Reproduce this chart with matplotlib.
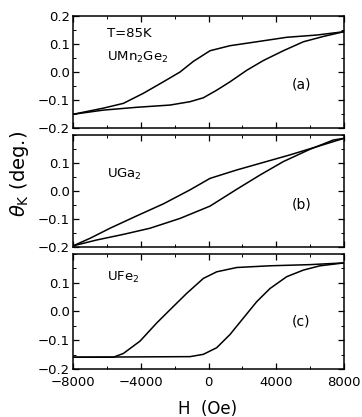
import numpy as np
import matplotlib
matplotlib.use("Agg")
import matplotlib.pyplot as plt
from matplotlib.ticker import MultipleLocator, FixedLocator, FuncFormatter

plt.rcParams['font.family'] = ['DejaVu Sans']

# panel (a) UMn2Ge2 : field down / field up branches
a_dec_h = [-8000, -6209, -5028, -3847, -2667, -1683, -895, 89, 1269, 2844, 4616, 6387, 8000]
a_dec_th = [-0.151, -0.129, -0.112, -0.076, -0.035, 0.000, 0.038, 0.076, 0.094, 0.108, 0.124, 0.132, 0.144]
a_inc_h = [-8000, -6209, -4241, -2273, -1092, -305, 482, 1269, 2253, 3237, 4418, 5599, 6780, 8000]
a_inc_th = [-0.151, -0.136, -0.126, -0.118, -0.106, -0.092, -0.065, -0.035, 0.006, 0.041, 0.076, 0.108, 0.127, 0.144]

# panel (b) UGa2
b_dec_h = [-8000, -6996, -5815, -4241, -2667, -1092, 89, 1663, 3237, 4812, 6387, 8000]
b_dec_th = [-0.196, -0.169, -0.133, -0.089, -0.046, 0.004, 0.045, 0.075, 0.102, 0.129, 0.158, 0.188]
b_inc_h = [-8000, -6603, -5028, -3454, -1683, 89, 1663, 3040, 4418, 5993, 7370, 8000]
b_inc_th = [-0.196, -0.175, -0.155, -0.133, -0.098, -0.054, 0.006, 0.057, 0.105, 0.149, 0.182, 0.188]

# panel (c) UFe2
c_dec_h = [-8000, -5618, -5028, -4044, -3060, -2273, -1289, -305, 482, 1663, 3631, 5993, 8000]
c_dec_th = [-0.159, -0.159, -0.146, -0.103, -0.040, 0.006, 0.063, 0.115, 0.138, 0.153, 0.159, 0.163, 0.169]
c_inc_h = [-8000, -1092, -305, 482, 1269, 2056, 2844, 3631, 4615, 5599, 6583, 8000]
c_inc_th = [-0.159, -0.157, -0.149, -0.126, -0.080, -0.023, 0.034, 0.080, 0.121, 0.144, 0.159, 0.169]

compounds = ["UMn$_2$Ge$_2$", "UGa$_2$", "UFe$_2$"]
panel_tags = ["(a)", "(b)", "(c)"]
x_ticks = [-8000, -4000, 0, 4000, 8000]
x_ticklabels = ["\u22128000", "\u22124000", "0", "4000", "8000"]

fig = plt.figure(figsize=(3.62, 4.17), dpi=100)
boxes = [
    [0.2017, 0.693, 0.7486, 0.2686],
    [0.2017, 0.4077, 0.7486, 0.2686],
    [0.2017, 0.1151, 0.7486, 0.2758],
]
branches = [
    (a_dec_h, a_dec_th, a_inc_h, a_inc_th),
    (b_dec_h, b_dec_th, b_inc_h, b_inc_th),
    (c_dec_h, c_dec_th, c_inc_h, c_inc_th),
]
label_y = [0.053, 0.06, 0.117]
tag_y = [-0.046, -0.05, -0.035]

def fmt(v, pos):
    s = "%.1f" % v
    if s == "-0.0":
        s = "0.0"
    return s.replace("-", "\u2212")

for i, (box, br) in enumerate(zip(boxes, branches)):
    ax = fig.add_axes(box)
    ax.plot(br[0], br[1], color='black', lw=1.1)
    ax.plot(br[2], br[3], color='black', lw=1.1)
    ax.set_xlim(-8000, 8000)
    ax.set_ylim(-0.2, 0.2)
    ax.xaxis.set_major_locator(FixedLocator(x_ticks))
    ax.xaxis.set_minor_locator(MultipleLocator(2000))
    if i == 0:
        ax.yaxis.set_major_locator(FixedLocator([-0.2, -0.1, 0.0, 0.1, 0.2]))
    else:
        ax.yaxis.set_major_locator(FixedLocator([-0.2, -0.1, 0.0, 0.1]))
    ax.yaxis.set_minor_locator(MultipleLocator(0.05))
    ax.yaxis.set_major_formatter(FuncFormatter(fmt))
    ax.tick_params(which='both', direction='in', top=True, right=True, labelsize=9.5)
    ax.tick_params(axis='y', pad=2)
    ax.tick_params(axis='x', pad=5)
    ax.tick_params(which='major', length=4, width=0.9)
    ax.tick_params(which='minor', length=2, width=0.7)
    if i < 2:
        ax.tick_params(labelbottom=False)
    else:
        ax.set_xticklabels(x_ticklabels)
    for sp in ax.spines.values():
        sp.set_linewidth(1.1)
    ax.text(-6000, label_y[i], compounds[i], fontsize=9.5, va='center')
    ax.text(4930, tag_y[i], panel_tags[i], fontsize=10, va='center')
    if i == 0:
        ax.text(-6000, 0.138, "T=85K", fontsize=9.5, va='center')

fig.text(0.055, 0.583, "$\\theta_{\\rm K}$ (deg.)", rotation=90, fontsize=14, ha='center', va='center')
fig.text(0.573, 0.02, "H  (Oe)", fontsize=12, ha='center', va='center')

fig.savefig("out.png", dpi=100)
